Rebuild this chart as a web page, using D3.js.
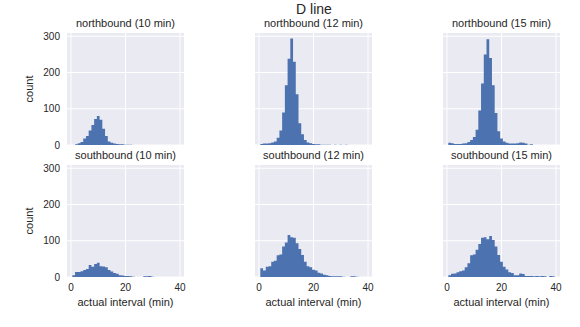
<!DOCTYPE html>
<html>
<head>
<meta charset="utf-8">
<script src="https://cdn.jsdelivr.net/npm/d3@7"></script>
<style>
  body { margin: 0; background: #fff; }
  text { font-family: "Liberation Sans", Arial, sans-serif; fill: #262626; }
</style>
</head>
<body>
<svg id="chart" width="580" height="327"></svg>
<script>
// Facet rows / columns
const directions = ["northbound", "southbound"];
const schedules = [10, 12, 15];

// Histogram bin edges (1-minute bins)
const binEdges = [0.5, 1.5, 2.5, 3.5, 4.5, 5.5, 6.5, 7.5, 8.5, 9.5,
  10.5, 11.5, 12.5, 13.5, 14.5, 15.5, 16.5, 17.5, 18.5, 19.5,
  20.5, 21.5, 22.5, 23.5, 24.5, 25.5, 26.5, 27.5, 28.5, 29.5,
  30.5, 31.5, 32.5, 33.5, 34.5, 35.5, 36.5, 37.5, 38.5, 39.5];

// Counts per bin for each direction / scheduled interval
const northbound10 = [0, 2, 5, 8, 18, 25, 40, 55, 72, 80, 70, 45, 25, 10, 6, 4, 3, 2, 2, 1,
  1, 1, 0, 0, 0, 0, 0, 0, 0, 0, 0, 0, 0, 0, 0, 0, 0, 0, 0];
const northbound12 = [3, 4, 4, 5, 7, 10, 20, 40, 90, 165, 238, 294, 230, 140, 60, 30, 14, 7, 5, 3,
  2, 2, 1, 1, 1, 1, 0, 1, 0, 1, 0, 1, 0, 0, 0, 0, 0, 0, 0];
const northbound15 = [6, 5, 3, 3, 3, 4, 5, 8, 14, 22, 42, 95, 170, 250, 292, 240, 165, 88, 38, 18,
  10, 6, 4, 4, 4, 5, 7, 6, 4, 1, 2, 0, 0, 0, 0, 0, 0, 0, 0];
const southbound10 = [5, 14, 14, 16, 19, 22, 33, 28, 36, 39, 30, 29, 27, 19, 15, 11, 9, 5, 4, 3,
  3, 2, 1, 0, 0, 0, 2, 2, 3, 1, 0, 0, 0, 0, 0, 0, 0, 0, 0];
const southbound12 = [24, 18, 28, 30, 42, 45, 60, 62, 84, 95, 116, 110, 108, 93, 77, 61, 42, 30, 27, 20,
  18, 12, 10, 6, 5, 3, 2, 2, 2, 2, 1, 0, 0, 2, 2, 1, 0, 0, 0];
const southbound15 = [5, 9, 10, 13, 16, 18, 27, 38, 60, 62, 75, 91, 108, 110, 104, 113, 102, 84, 61, 42,
  28, 21, 13, 11, 5, 5, 10, 8, 3, 3, 3, 2, 3, 2, 3, 2, 0, 3, 2];

const xTicks = [0, 20, 40];
const yTicks = [0, 100, 200, 300];

const seriesTable = {
  northbound: { 10: northbound10, 12: northbound12, 15: northbound15 },
  southbound: { 10: southbound10, 12: southbound12, 15: southbound15 }
};

// Layout
const colLeft = [67, 255, 443];
const rowTop = [33, 165];
const panelW = 117, panelH = 112;
const bg = "#EAEAF2", barColor = "#4C72B0";

const svg = d3.select("#chart");

const x = d3.scaleLinear().domain([-1.45, 41.45]).range([0, panelW]);
const y = d3.scaleLinear().domain([0, 309]).range([panelH, 0]);

const area = d3.area()
  .x(d => x(d.x))
  .y0(y(0))
  .y1(d => y(d.v));

svg.append("text")
  .attr("x", 314).attr("y", 14)
  .attr("text-anchor", "middle")
  .style("font-size", "14px")
  .text("D line");

directions.forEach((dir, r) => {
  schedules.forEach((sch, c) => {
    const g = svg.append("g")
      .attr("transform", `translate(${colLeft[c]},${rowTop[r]})`);

    g.append("rect")
      .attr("width", panelW).attr("height", panelH)
      .attr("fill", bg);

    // grid
    g.selectAll(".gx").data(xTicks).enter().append("line")
      .attr("x1", d => x(d)).attr("x2", d => x(d))
      .attr("y1", 0).attr("y2", panelH)
      .attr("stroke", "#fff").attr("stroke-width", 1);
    g.selectAll(".gy").data(yTicks).enter().append("line")
      .attr("y1", d => y(d)).attr("y2", d => y(d))
      .attr("x1", 0).attr("x2", panelW)
      .attr("stroke", "#fff").attr("stroke-width", 1);

    // histogram as a stepped area
    const vals = seriesTable[dir][sch];
    const pts = [];
    vals.forEach((v, i) => {
      pts.push({ x: binEdges[i], v: v });
      pts.push({ x: binEdges[i + 1], v: v });
    });
    g.append("path")
      .datum(pts)
      .attr("d", area)
      .attr("fill", barColor);

    // panel title
    g.append("text")
      .attr("x", panelW / 2).attr("y", -6)
      .attr("text-anchor", "middle")
      .style("font-size", "11px")
      .text(`${dir} (${sch} min)`);

    if (c === 0) {
      g.selectAll(".yt").data(yTicks).enter().append("text")
        .attr("x", -7).attr("y", d => y(d))
        .attr("dy", "0.35em")
        .attr("text-anchor", "end")
        .style("font-size", "10px")
        .text(d => d);
      g.append("text")
        .attr("transform", `translate(-34,${panelH / 2}) rotate(-90)`)
        .attr("text-anchor", "middle")
        .style("font-size", "11px")
        .text("count");
    }
    if (r === 1) {
      g.selectAll(".xt").data(xTicks).enter().append("text")
        .attr("x", d => x(d)).attr("y", panelH + 14)
        .attr("text-anchor", "middle")
        .style("font-size", "10px")
        .text(d => d);
      g.append("text")
        .attr("x", panelW / 2).attr("y", panelH + 29)
        .attr("text-anchor", "middle")
        .style("font-size", "11px")
        .text("actual interval (min)");
    }
  });
});
</script>
</body>
</html>
